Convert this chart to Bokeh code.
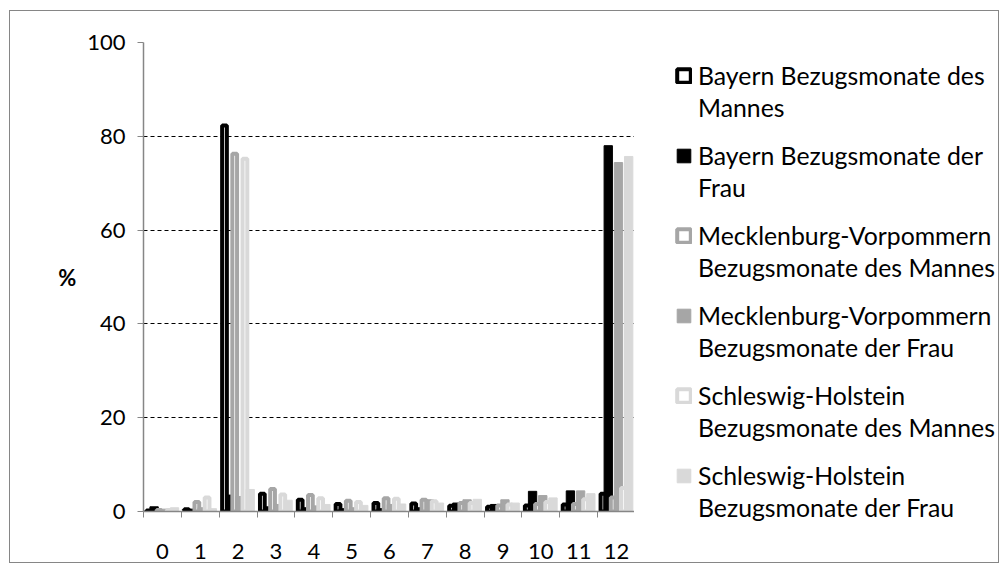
from bokeh.plotting import figure
from bokeh.layouts import row
from bokeh.models import Range1d, FixedTicker, Legend, LegendItem, ColumnDataSource
from bokeh.transform import dodge
from bokeh.embed import file_html
from bokeh.resources import INLINE

months = list(range(13))
month_labels = [str(m) for m in months]

bayern_mann = [0.2, 0.5, 82.3, 3.8, 2.5, 1.6, 1.8, 1.7, 1.2, 1.0, 1.3, 1.5, 3.8]
bayern_frau = [1.0, 0.5, 3.5, 1.0, 0.8, 0.6, 0.6, 0.8, 1.8, 1.5, 4.3, 4.4, 78.0]
mv_mann = [0.3, 2.0, 76.3, 4.8, 3.5, 2.3, 2.8, 2.5, 1.8, 1.3, 1.6, 1.6, 3.0]
mv_frau = [0.5, 0.8, 3.2, 1.5, 1.2, 0.8, 1.5, 2.5, 2.5, 2.5, 3.4, 4.4, 74.4]
sh_mann = [0.3, 3.0, 75.2, 3.6, 2.8, 2.0, 2.7, 2.2, 1.8, 1.5, 2.0, 2.6, 5.0]
sh_frau = [0.8, 0.6, 4.7, 2.4, 1.5, 1.3, 1.6, 1.8, 2.6, 1.8, 2.9, 3.8, 75.7]

label_line1 = ["Bayern Bezugsmonate des", "Bayern Bezugsmonate der",
               "Mecklenburg-Vorpommern", "Mecklenburg-Vorpommern",
               "Schleswig-Holstein", "Schleswig-Holstein"]
label_line2 = ["Mannes", "Frau",
               "Bezugsmonate des Mannes", "Bezugsmonate der Frau",
               "Bezugsmonate des Mannes", "Bezugsmonate der Frau"]
series_values = [bayern_mann, bayern_frau, mv_mann, mv_frau, sh_mann, sh_frau]
series_colors = ["#000000", "#000000", "#a6a6a6", "#a6a6a6", "#d9d9d9", "#d9d9d9"]
series_hollow = [True, False, True, False, True, False]
offsets = [-0.36, -0.22, -0.09, 0.05, 0.18, 0.32]

FONT = "Lato"
BORDER = "1px solid #868686"


def bar_style(i):
    c = series_colors[i]
    if series_hollow[i]:
        return dict(width=0.125, fill_color="white", line_color=c, line_width=4)
    return dict(width=0.22, fill_color=c, line_color=c, line_width=1)


p = figure(width=625, height=553, output_backend="svg", toolbar_location=None,
           x_range=Range1d(-0.5, 12.5), y_range=Range1d(0, 100),
           min_border_left=133, min_border_right=0, min_border_top=31, min_border_bottom=53)
p.styles = {"border-left": BORDER, "border-top": BORDER, "border-bottom": BORDER}
p.outline_line_color = None
p.xgrid.grid_line_color = None
p.ygrid.ticker = FixedTicker(ticks=[20, 40, 60, 80, 100])
p.ygrid.grid_line_color = "#000000"
p.ygrid.grid_line_dash = "4 3"
p.ygrid.grid_line_width = 1

data = {"m": months}
for i, v in enumerate(series_values):
    data[f"s{i}"] = v
src = ColumnDataSource(data)

for i in range(6):
    p.vbar(x=dodge("m", offsets[i], range=p.x_range), top=f"s{i}", bottom=0,
           source=src, **bar_style(i))

# axes
p.xaxis.ticker = FixedTicker(ticks=months, minor_ticks=[m - 0.5 for m in months] + [12.5])
p.xaxis.major_label_overrides = {m: l for m, l in zip(months, month_labels)}
p.xaxis.major_tick_line_color = None
p.xaxis.minor_tick_line_color = "#868686"
p.xaxis.minor_tick_in = 0
p.xaxis.minor_tick_out = 6
p.xaxis.axis_line_color = "#868686"
p.xaxis.axis_line_width = 1.5
p.xaxis.major_label_standoff = 26
p.xaxis.major_label_text_font = FONT
p.xaxis.major_label_text_font_size = "22px"
p.xaxis.major_label_text_color = "#000000"

p.yaxis.ticker = FixedTicker(ticks=[0, 20, 40, 60, 80, 100])
p.yaxis.minor_tick_line_color = None
p.yaxis.major_tick_in = 0
p.yaxis.major_tick_out = 6
p.yaxis.major_tick_line_color = "#868686"
p.yaxis.axis_line_color = "#868686"
p.yaxis.axis_line_width = 1.5
p.yaxis.major_label_standoff = 12
p.yaxis.major_label_text_font = FONT
p.yaxis.major_label_text_font_size = "22px"
p.yaxis.major_label_text_color = "#000000"
p.yaxis.axis_label = "%"
p.yaxis.axis_label_orientation = "horizontal"
p.yaxis.axis_label_text_font = FONT
p.yaxis.axis_label_text_font_style = "bold"
p.yaxis.axis_label_text_font_size = "22px"
p.yaxis.axis_label_text_color = "#000000"
p.yaxis.axis_label_standoff = 8

# legend panel (its bars lie outside its view; only the legend shows)
lg = figure(width=365, height=553, output_backend="svg", toolbar_location=None,
            x_axis_type=None, y_axis_type=None, min_border=0,
            x_range=Range1d(1000, 1001), y_range=Range1d(1000, 1001))
lg.styles = {"border-right": BORDER, "border-top": BORDER, "border-bottom": BORDER}
lg.outline_line_color = None

unaligned = False
try:
    lg.frame_align = False
    unaligned = True
except Exception:
    unaligned = False

items1, items2 = [], []
for i in range(6):
    r1 = lg.vbar(x="m", top=f"s{i}", bottom=0, source=src, **bar_style(i))
    r2 = lg.vbar(x="m", top=f"s{i}", bottom=0, source=src, width=0.1,
                 fill_alpha=0, line_alpha=0)
    items1.append(LegendItem(label=label_line1[i], renderers=[r1]))
    items2.append(LegendItem(label=label_line2[i], renderers=[r2]))


def make_legend(items, loc):
    leg = Legend(items=items, location=loc)
    leg.padding = 0
    leg.margin = 0
    leg.border_line_color = None
    leg.background_fill_alpha = 0
    leg.glyph_width = 17
    leg.glyph_height = 17
    leg.label_height = 30
    leg.label_standoff = 6
    leg.spacing = 50
    leg.label_text_font = FONT
    leg.label_text_font_size = "24.8px"
    leg.label_text_color = "#000000"
    return leg


if unaligned:
    loc1, loc2 = (41, 74), (41, 42)
else:
    loc1, loc2 = (41, 27), (41, -5)

lg.add_layout(make_legend(items1, loc1), "center")
lg.add_layout(make_legend(items2, loc2), "center")

layout = row(p, lg)
layout.styles = {"margin-left": "9px", "margin-top": "10px"}

open("out.html", "w").write(file_html(layout, INLINE))
